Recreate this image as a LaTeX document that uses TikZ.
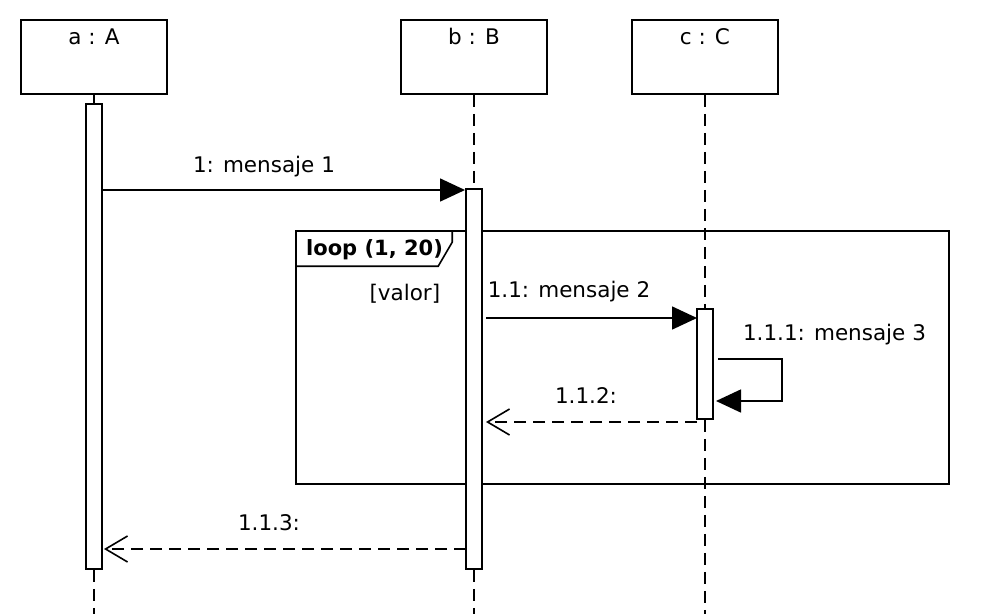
\documentclass[tikz,border=0pt]{standalone}
\usepackage{fontspec}
\setmainfont{DejaVu Sans}
\usetikzlibrary{arrows.meta}
\usetikzlibrary{positioning}
\tikzset{head/.style = {draw, fill = white, minimum width = 146, minimum height = 74, inner sep = 0}}
\tikzset{act/.style = {draw, fill = white, minimum width = 16, inner sep = 0}}
\tikzset{txt/.style = {anchor = base, inner sep = 0, font = \fontsize{21.5}{25}\selectfont}}
\tikzset{life/.style = {dash pattern = on 12pt off 7pt}}
\tikzset{msg/.style = {-{Triangle[length = 25pt, width = 23pt]}}}
\tikzset{ret/.style = {life, -{Straight Barb[length = 22pt, width = 26pt]}}}

\begin{document}
\begin{tikzpicture}[x = 1pt, y = -1pt, line width = 1.6pt]
    \useasboundingbox (0, 0) rectangle (986, 614);

    % loop fragment
    \node [draw, minimum width = 653, minimum height = 253, inner sep = 0] (loop) at (622.5, 357.5) {};
    \draw (loop.north west) ++(157, 0) -- ++(0, 12) -- ++(-14, 24) -- ++(-143, 0);
    \node [txt, font = \fontsize{21}{25}\selectfont\bfseries] at (374.5, 255) {loop (1, 20)};
    \node [txt, anchor = base east] at (441, 300) {[valor]};

    % objects
    \node [head] (a) at (94, 57) {};
    \node [head] (b) at (474, 57) {};
    \node [head] (c) at (705, 57) {};
    \node [txt] at (94, 44.5) {a : A};
    \node [txt] at (474, 44.5) {b : B};
    \node [txt] at (705, 44.5) {c : C};

    % activations
    \node [act, minimum height = 465] (acta) at (94, 336.5) {};
    \node [act, minimum height = 380] (actb) at (474, 379) {};
    \node [act, minimum height = 110] (actc) at (705, 364) {};

    % lifelines
    \coordinate (aend) at (94, 614);
    \coordinate (bend) at (474, 614);
    \coordinate (cend) at (705, 614);
    \draw (a.south) -- (acta.north);
    \draw [life] (acta.south) -- (aend);
    \draw [life] (b.south) -- (actb.north);
    \draw [life] (actb.south) -- (bend);
    \draw [life] (c.south) -- (actc.north);
    \draw [life] (actc.south) -- (cend);

    % messages
    \coordinate (m1a) at (103, 190);
    \coordinate (m1b) at (465, 190);
    \draw [msg] (m1a) -- (m1b);
    \node [txt] at (264, 172) {1: mensaje 1};

    \coordinate (m2a) at (486, 318);
    \coordinate (m2b) at (697, 318);
    \draw [msg] (m2a) -- (m2b);
    \node [txt, anchor = base west] at (487, 297) {1.1: mensaje 2};

    \coordinate (s1) at (718, 359);
    \coordinate (s2) at (782, 359);
    \coordinate (s3) at (782, 401);
    \coordinate (s4) at (716, 401);
    \draw [msg] (s1) -- (s2) -- (s3) -- (s4);
    \node [txt] at (834.5, 340) {1.1.1: mensaje 3};

    \coordinate (r1a) at (697, 422);
    \coordinate (r1b) at (486, 422);
    \draw [ret] (r1a) -- (r1b);
    \node [txt] at (586, 403) {1.1.2:};

    \coordinate (r2a) at (466, 549);
    \coordinate (r2b) at (104, 549);
    \draw [ret] (r2a) -- (r2b);
    \node [txt] at (269, 530) {1.1.3:};
\end{tikzpicture}
\end{document}
